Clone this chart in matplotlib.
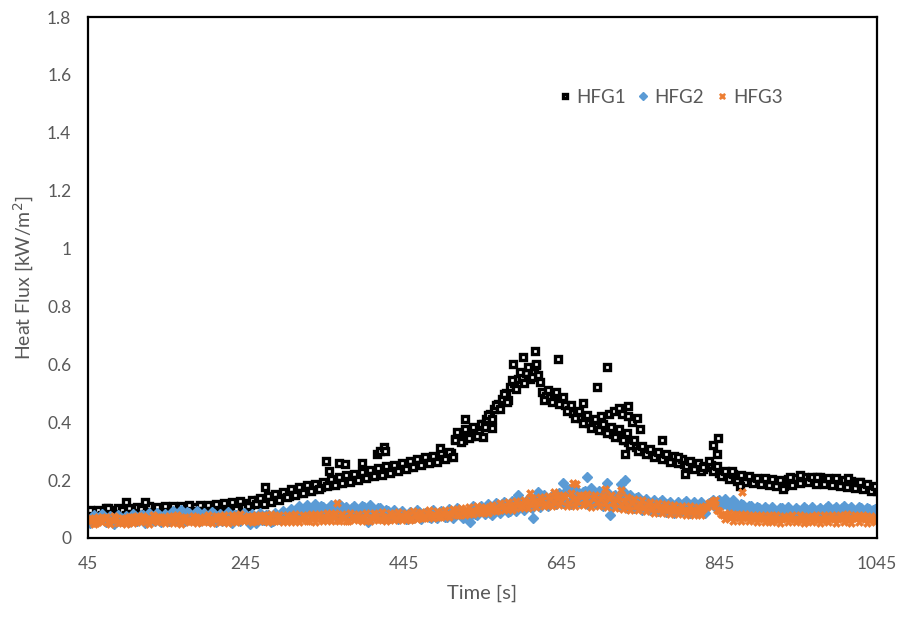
import numpy as np
import matplotlib
matplotlib.use("Agg")
import matplotlib.pyplot as plt

plt.rcParams['font.family'] = ['Lato', 'DejaVu Sans']

# Sample times [s]: main readings every 5 s from 45, plus interleaved readings
time_s = np.arange(45, 1046, 5)
time_s_b = np.arange(47.5, 1043, 5)

# Heat flux gauge 1 [kW/m2]
hfg1 = [
    0.082, 0.075, 0.090, 0.085, 0.093, 0.080, 0.088, 0.097, 0.084, 0.091,
    0.089, 0.099, 0.086, 0.094, 0.102, 0.090, 0.096, 0.088, 0.101, 0.093,
    0.098, 0.091, 0.104, 0.095, 0.100, 0.092, 0.099, 0.106, 0.094, 0.101,
    0.097, 0.108, 0.100, 0.105, 0.111, 0.103, 0.109, 0.116, 0.107, 0.118,
    0.121, 0.113, 0.124, 0.130, 0.122, 0.135, 0.128, 0.141, 0.137, 0.148,
    0.152, 0.145, 0.160, 0.156, 0.168, 0.162, 0.174, 0.170, 0.181, 0.177,
    0.189, 0.184, 0.196, 0.190, 0.202, 0.198, 0.207, 0.203, 0.214, 0.209,
    0.221, 0.215, 0.226, 0.232, 0.224, 0.236, 0.230, 0.241, 0.237, 0.248,
    0.252, 0.245, 0.257, 0.262, 0.255, 0.268, 0.263, 0.274, 0.270, 0.281,
    0.286, 0.279, 0.292, 0.342, 0.356, 0.338, 0.362, 0.351, 0.372, 0.366,
    0.395, 0.412, 0.428, 0.446, 0.463, 0.481, 0.502, 0.521, 0.536, 0.548,
    0.556, 0.570, 0.548, 0.575, 0.562, 0.505, 0.492, 0.486, 0.498, 0.480,
    0.472, 0.458, 0.441, 0.432, 0.420, 0.414, 0.405, 0.398, 0.391, 0.386,
    0.378, 0.372, 0.366, 0.360, 0.355, 0.348, 0.340, 0.332, 0.322, 0.314,
    0.306, 0.300, 0.295, 0.290, 0.286, 0.282, 0.278, 0.272, 0.268, 0.265,
    0.261, 0.257, 0.252, 0.249, 0.245, 0.242, 0.238, 0.246, 0.252, 0.236,
    0.226, 0.220, 0.214, 0.210, 0.213, 0.207, 0.204, 0.209, 0.201, 0.198,
    0.194, 0.199, 0.192, 0.196, 0.189, 0.193, 0.186, 0.191, 0.195, 0.198,
    0.202, 0.196, 0.204, 0.199, 0.205, 0.201, 0.197, 0.203, 0.194, 0.199,
    0.192, 0.196, 0.187, 0.190, 0.183, 0.186, 0.178, 0.182, 0.174, 0.170,
    0.162,
]
hfg1_b = [
    0.095, 0.070, 0.098, 0.078, 0.102, 0.088, 0.076, 0.104, 0.095, 0.080,
    0.105, 0.082, 0.108, 0.099, 0.084, 0.110, 0.080, 0.106, 0.086, 0.111,
    0.088, 0.112, 0.090, 0.109, 0.086, 0.113, 0.091, 0.087, 0.114, 0.092,
    0.115, 0.094, 0.118, 0.092, 0.121, 0.097, 0.123, 0.101, 0.127, 0.106,
    0.109, 0.132, 0.116, 0.139, 0.119, 0.146, 0.124, 0.152, 0.131, 0.160,
    0.141, 0.168, 0.150, 0.175, 0.155, 0.183, 0.163, 0.188, 0.168, 0.194,
    0.178, 0.203, 0.182, 0.210, 0.190, 0.216, 0.195, 0.222, 0.200, 0.228,
    0.208, 0.236, 0.214, 0.241, 0.219, 0.248, 0.226, 0.253, 0.231, 0.260,
    0.240, 0.266, 0.246, 0.272, 0.251, 0.279, 0.258, 0.284, 0.263, 0.292,
    0.272, 0.298, 0.280, 0.365, 0.330, 0.378, 0.345, 0.382, 0.352, 0.395,
    0.385, 0.425, 0.410, 0.460, 0.445, 0.498, 0.478, 0.545, 0.515, 0.572,
    0.535, 0.590, 0.555, 0.598, 0.540, 0.478, 0.512, 0.470, 0.505, 0.462,
    0.488, 0.440, 0.460, 0.415, 0.438, 0.398, 0.425, 0.380, 0.410, 0.372,
    0.395, 0.362, 0.385, 0.350, 0.378, 0.338, 0.362, 0.320, 0.338, 0.302,
    0.318, 0.290, 0.308, 0.280, 0.298, 0.272, 0.290, 0.264, 0.282, 0.258,
    0.272, 0.248, 0.266, 0.240, 0.258, 0.232, 0.250, 0.265, 0.230, 0.248,
    0.214, 0.230, 0.205, 0.222, 0.198, 0.218, 0.195, 0.214, 0.190, 0.208,
    0.185, 0.206, 0.182, 0.204, 0.180, 0.202, 0.178, 0.205, 0.184, 0.208,
    0.190, 0.212, 0.192, 0.210, 0.188, 0.212, 0.186, 0.208, 0.184, 0.206,
    0.180, 0.202, 0.176, 0.196, 0.172, 0.192, 0.168, 0.186, 0.164, 0.178,
]

# Heat flux gauge 2 [kW/m2]
hfg2 = [
    0.062, 0.071, 0.058, 0.066, 0.074, 0.060, 0.069, 0.055, 0.072, 0.064,
    0.068, 0.059, 0.075, 0.066, 0.080, 0.062, 0.071, 0.057, 0.078, 0.065,
    0.072, 0.084, 0.063, 0.079, 0.068, 0.090, 0.074, 0.061, 0.086, 0.070,
    0.077, 0.064, 0.082, 0.069, 0.058, 0.075, 0.066, 0.080, 0.062, 0.071,
    0.067, 0.074, 0.060, 0.070, 0.063, 0.078, 0.066, 0.059, 0.073, 0.081,
    0.076, 0.088, 0.070, 0.095, 0.084, 0.102, 0.091, 0.108, 0.097, 0.112,
    0.100, 0.093, 0.106, 0.088, 0.110, 0.096, 0.082, 0.104, 0.091, 0.099,
    0.107, 0.089, 0.098, 0.085, 0.102, 0.079, 0.094, 0.083, 0.072, 0.088,
    0.078, 0.067, 0.084, 0.073, 0.090, 0.076, 0.082, 0.070, 0.088, 0.079,
    0.086, 0.074, 0.092, 0.081, 0.095, 0.068, 0.089, 0.098, 0.084, 0.101,
    0.093, 0.107, 0.088, 0.112, 0.097, 0.118, 0.103, 0.092, 0.115, 0.106,
    0.121, 0.110, 0.128, 0.116, 0.133, 0.125, 0.137, 0.119, 0.142, 0.130,
    0.148, 0.126, 0.158, 0.135, 0.146, 0.122, 0.162, 0.140, 0.131, 0.152,
    0.128, 0.144, 0.119, 0.137, 0.125, 0.150, 0.116, 0.132, 0.121, 0.138,
    0.112, 0.127, 0.104, 0.120, 0.109, 0.124, 0.101, 0.116, 0.098, 0.113,
    0.107, 0.121, 0.099, 0.115, 0.104, 0.118, 0.096, 0.112, 0.125, 0.108,
    0.131, 0.119, 0.126, 0.110, 0.122, 0.104, 0.115, 0.098, 0.109, 0.093,
    0.104, 0.091, 0.099, 0.086, 0.097, 0.090, 0.102, 0.088, 0.095, 0.084,
    0.096, 0.089, 0.101, 0.092, 0.087, 0.098, 0.093, 0.104, 0.090, 0.099,
    0.094, 0.105, 0.091, 0.100, 0.088, 0.097, 0.103, 0.092, 0.099, 0.095,
    0.090,
]
hfg2_b = [
    0.052, 0.078, 0.061, 0.082, 0.055, 0.076, 0.050, 0.081, 0.058, 0.075,
    0.054, 0.083, 0.060, 0.079, 0.051, 0.085, 0.062, 0.088, 0.056, 0.082,
    0.060, 0.092, 0.066, 0.095, 0.058, 0.088, 0.064, 0.094, 0.057, 0.085,
    0.061, 0.089, 0.055, 0.084, 0.063, 0.090, 0.052, 0.079, 0.060, 0.086,
    0.058, 0.082, 0.053, 0.086, 0.061, 0.079, 0.055, 0.088, 0.064, 0.092,
    0.068, 0.099, 0.078, 0.110, 0.088, 0.115, 0.083, 0.118, 0.086, 0.106,
    0.089, 0.114, 0.080, 0.117, 0.086, 0.108, 0.075, 0.112, 0.084, 0.109,
    0.092, 0.113, 0.078, 0.105, 0.070, 0.098, 0.068, 0.095, 0.064, 0.093,
    0.066, 0.091, 0.070, 0.095, 0.064, 0.088, 0.072, 0.096, 0.068, 0.092,
    0.074, 0.099, 0.070, 0.104, 0.078, 0.088, 0.074, 0.110, 0.080, 0.112,
    0.082, 0.118, 0.079, 0.122, 0.086, 0.125, 0.090, 0.128, 0.094, 0.130,
    0.098, 0.136, 0.104, 0.142, 0.108, 0.150, 0.112, 0.145, 0.118, 0.155,
    0.120, 0.165, 0.118, 0.170, 0.124, 0.160, 0.118, 0.172, 0.122, 0.164,
    0.112, 0.158, 0.108, 0.150, 0.110, 0.162, 0.105, 0.148, 0.104, 0.142,
    0.098, 0.136, 0.095, 0.130, 0.092, 0.132, 0.090, 0.126, 0.088, 0.124,
    0.092, 0.128, 0.088, 0.126, 0.090, 0.124, 0.086, 0.122, 0.132, 0.115,
    0.118, 0.136, 0.106, 0.130, 0.100, 0.118, 0.094, 0.112, 0.088, 0.106,
    0.085, 0.108, 0.082, 0.106, 0.080, 0.104, 0.083, 0.107, 0.081, 0.102,
    0.084, 0.106, 0.080, 0.108, 0.083, 0.105, 0.082, 0.110, 0.086, 0.108,
    0.084, 0.110, 0.082, 0.108, 0.080, 0.106, 0.085, 0.104, 0.082, 0.100,
]

# Heat flux gauge 3 [kW/m2]
hfg3 = [
    0.058, 0.066, 0.052, 0.063, 0.070, 0.056, 0.061, 0.068, 0.054, 0.065,
    0.060, 0.071, 0.057, 0.064, 0.075, 0.059, 0.067, 0.062, 0.073, 0.058,
    0.066, 0.061, 0.072, 0.056, 0.069, 0.063, 0.058, 0.070, 0.064, 0.060,
    0.068, 0.057, 0.065, 0.071, 0.059, 0.066, 0.062, 0.074, 0.061, 0.069,
    0.064, 0.072, 0.060, 0.070, 0.077, 0.063, 0.068, 0.058, 0.071, 0.065,
    0.061, 0.069, 0.074, 0.062, 0.067, 0.073, 0.059, 0.070, 0.076, 0.064,
    0.071, 0.066, 0.078, 0.063, 0.072, 0.068, 0.060, 0.074, 0.069, 0.065,
    0.073, 0.062, 0.070, 0.077, 0.066, 0.071, 0.064, 0.079, 0.068, 0.075,
    0.070, 0.078, 0.066, 0.082, 0.074, 0.069, 0.085, 0.076, 0.081, 0.073,
    0.088, 0.079, 0.084, 0.092, 0.081, 0.089, 0.095, 0.086, 0.093, 0.099,
    0.091, 0.102, 0.096, 0.105, 0.098, 0.110, 0.103, 0.114, 0.107, 0.118,
    0.112, 0.124, 0.116, 0.128, 0.120, 0.131, 0.118, 0.134, 0.125, 0.138,
    0.129, 0.141, 0.122, 0.136, 0.127, 0.144, 0.130, 0.120, 0.139, 0.126,
    0.133, 0.121, 0.137, 0.124, 0.130, 0.116, 0.127, 0.112, 0.122, 0.109,
    0.118, 0.106, 0.114, 0.102, 0.111, 0.099, 0.108, 0.096, 0.104, 0.093,
    0.101, 0.094, 0.098, 0.091, 0.097, 0.090, 0.099, 0.107, 0.116, 0.111,
    0.092, 0.080, 0.076, 0.072, 0.078, 0.070, 0.075, 0.068, 0.073, 0.066,
    0.071, 0.065, 0.069, 0.063, 0.068, 0.061, 0.066, 0.070, 0.064, 0.067,
    0.062, 0.068, 0.060, 0.065, 0.071, 0.063, 0.067, 0.061, 0.069, 0.064,
    0.070, 0.066, 0.072, 0.063, 0.068, 0.074, 0.065, 0.071, 0.062, 0.067,
    0.064,
]
hfg3_b = [
    0.068, 0.050, 0.074, 0.055, 0.072, 0.049, 0.075, 0.053, 0.070, 0.048,
    0.073, 0.052, 0.076, 0.054, 0.069, 0.050, 0.078, 0.055, 0.071, 0.051,
    0.075, 0.053, 0.078, 0.050, 0.074, 0.054, 0.077, 0.052, 0.073, 0.055,
    0.079, 0.052, 0.075, 0.056, 0.080, 0.053, 0.078, 0.055, 0.082, 0.057,
    0.076, 0.054, 0.081, 0.058, 0.079, 0.055, 0.083, 0.057, 0.078, 0.054,
    0.080, 0.056, 0.083, 0.055, 0.081, 0.058, 0.084, 0.056, 0.082, 0.059,
    0.085, 0.057, 0.088, 0.060, 0.083, 0.058, 0.086, 0.061, 0.084, 0.059,
    0.087, 0.060, 0.085, 0.062, 0.089, 0.058, 0.086, 0.063, 0.090, 0.061,
    0.088, 0.063, 0.092, 0.066, 0.090, 0.068, 0.095, 0.070, 0.093, 0.072,
    0.098, 0.074, 0.100, 0.078, 0.104, 0.080, 0.106, 0.083, 0.110, 0.086,
    0.108, 0.088, 0.114, 0.092, 0.120, 0.095, 0.124, 0.098, 0.128, 0.102,
    0.132, 0.105, 0.138, 0.108, 0.142, 0.110, 0.145, 0.112, 0.150, 0.115,
    0.148, 0.112, 0.155, 0.110, 0.150, 0.114, 0.152, 0.108, 0.148, 0.111,
    0.146, 0.106, 0.150, 0.104, 0.142, 0.100, 0.140, 0.098, 0.135, 0.095,
    0.130, 0.092, 0.126, 0.088, 0.122, 0.086, 0.118, 0.084, 0.115, 0.082,
    0.112, 0.080, 0.110, 0.078, 0.108, 0.080, 0.112, 0.122, 0.128, 0.095,
    0.084, 0.066, 0.086, 0.060, 0.084, 0.058, 0.082, 0.057, 0.080, 0.056,
    0.079, 0.055, 0.078, 0.054, 0.080, 0.053, 0.077, 0.055, 0.079, 0.054,
    0.078, 0.053, 0.076, 0.055, 0.080, 0.052, 0.078, 0.054, 0.081, 0.053,
    0.079, 0.055, 0.082, 0.053, 0.080, 0.056, 0.078, 0.052, 0.077, 0.054,
]

# Isolated readings that stand apart from the main trend (time, flux)
hfg1_extra_t = [70, 93, 117, 269, 347, 350, 363, 371, 392, 411, 415, 420, 421,
                491, 510, 523, 546, 557, 576, 584, 596, 612, 613, 641, 672,
                690, 695, 703, 705, 712, 718, 722, 726, 729, 730, 735, 741,
                744, 772, 793, 802, 825, 837, 842, 843, 861, 871, 926, 935,
                947, 969, 1008, 1023]
hfg1_extra_v = [0.105, 0.125, 0.125, 0.175, 0.265, 0.230, 0.260, 0.255, 0.260,
                0.290, 0.300, 0.315, 0.300, 0.310, 0.340, 0.410, 0.350, 0.380,
                0.470, 0.600, 0.625, 0.645, 0.600, 0.620, 0.465, 0.520, 0.420,
                0.590, 0.430, 0.440, 0.450, 0.430, 0.290, 0.455, 0.420, 0.400,
                0.415, 0.375, 0.340, 0.280, 0.220, 0.245, 0.320, 0.290, 0.345,
                0.230, 0.180, 0.170, 0.210, 0.218, 0.210, 0.207, 0.193]

hfg2_extra_t = [250, 400, 529, 590, 609, 615, 647, 655, 677, 703, 706, 720, 726]
hfg2_extra_v = [0.050, 0.055, 0.055, 0.150, 0.070, 0.160, 0.190, 0.170, 0.210,
                0.190, 0.080, 0.185, 0.200]

hfg3_extra_t = [361, 605, 636, 660, 664, 700, 720, 840, 874]
hfg3_extra_v = [0.120, 0.155, 0.160, 0.190, 0.185, 0.170, 0.165, 0.130, 0.160]

x_ticks = [45, 245, 445, 645, 845, 1045]
y_ticks = [0, 0.2, 0.4, 0.6, 0.8, 1.0, 1.2, 1.4, 1.6, 1.8]
y_tick_labels = ["0", "0.2", "0.4", "0.6", "0.8", "1", "1.2", "1.4", "1.6", "1.8"]

GREY = "#595959"
BLUE = "#5B9BD5"
ORANGE = "#ED7D31"

fig = plt.figure(figsize=(9.01, 6.19), dpi=100)
ax = fig.add_axes([0.0977, 0.1309, 0.8757, 0.8416])

t1 = np.concatenate([time_s, time_s_b, hfg1_extra_t])
v1 = np.concatenate([hfg1, hfg1_b, hfg1_extra_v])
t2 = np.concatenate([time_s, time_s_b, hfg2_extra_t])
v2 = np.concatenate([hfg2, hfg2_b, hfg2_extra_v])
t3 = np.concatenate([time_s, time_s_b, hfg3_extra_t])
v3 = np.concatenate([hfg3, hfg3_b, hfg3_extra_v])

ax.plot(t1, v1, linestyle="none", marker="s", markersize=3.8,
        markerfacecolor="white", markeredgecolor="black", markeredgewidth=2.4,
        label="HFG1")
ax.plot(t2, v2, linestyle="none", marker="D", markersize=5.0,
        color=BLUE, markeredgecolor=BLUE, label="HFG2")
ax.plot(t3, v3, linestyle="none", marker="X", markersize=6.0,
        color=ORANGE, markeredgecolor=ORANGE, markeredgewidth=0.4, label="HFG3")

ax.set_xlim(45, 1045)
ax.set_ylim(0, 1.8)
ax.set_xticks(x_ticks)
ax.set_yticks(y_ticks)
ax.set_yticklabels(y_tick_labels)
ax.tick_params(axis="both", length=0, labelsize=12.5, labelcolor=GREY)
ax.tick_params(axis="x", pad=13)
ax.tick_params(axis="y", pad=12)
for sp in ax.spines.values():
    sp.set_color("black")
    sp.set_linewidth(1.6)

ax.set_xlabel("Time [s]", fontsize=14.5, color=GREY, labelpad=9)
ax.set_ylabel("Heat Flux [kW/m$^2$]", fontsize=14, color=GREY, labelpad=8)

leg = ax.legend(loc="center", bbox_to_anchor=(0.737, 0.846), ncol=3,
                frameon=False, fontsize=13.5, markerscale=0.75,
                handletextpad=0.15, columnspacing=0.5, handlelength=0.9)
for txt in leg.get_texts():
    txt.set_color(GREY)

fig.savefig("out.png", dpi=100)
